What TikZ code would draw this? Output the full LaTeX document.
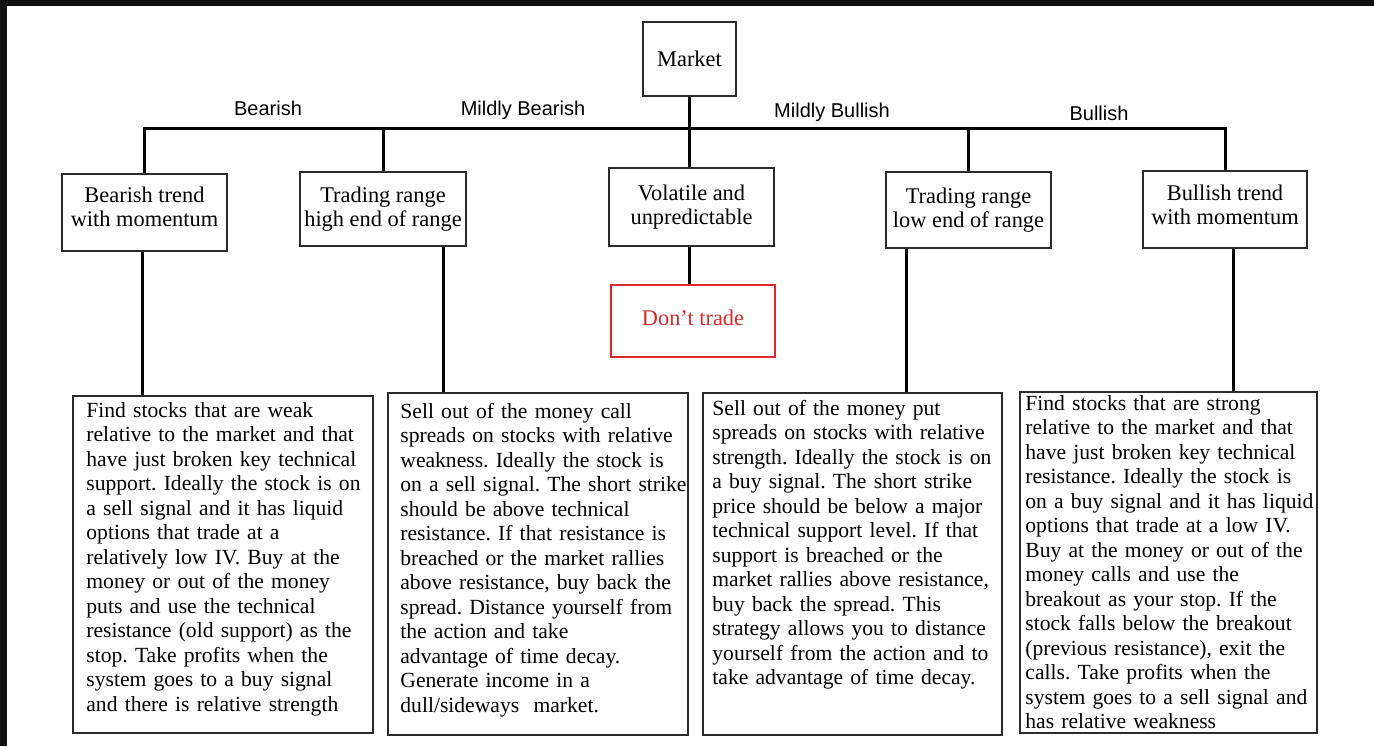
\documentclass[tikz,border=0pt]{standalone}
\usepackage{fontspec}
\setmainfont{Liberation Serif}
\newfontfamily\lblfont{Liberation Sans}
\definecolor{framegray}{HTML}{111111}
\definecolor{boxline}{HTML}{2B2B2B}
\definecolor{dtred}{HTML}{E02828}
\frenchspacing
\begin{document}
\begin{tikzpicture}[x=0.5pt,y=-0.5pt,
  catbox/.style={draw=boxline, line width=1pt, fill=white, inner sep=0pt,
    font=\fontsize{11.2}{12}\selectfont, align=center},
  bigbox/.style={draw=boxline, line width=1pt, inner sep=0pt},
  body/.style={anchor=base west, inner sep=0pt, align=left, text width=160pt,
    font=\fontsize{10.8}{12.25}\selectfont},
  conn/.style={line width=1.5pt, black},
  lbl/.style={font=\lblfont\fontsize{10}{12}\selectfont, inner sep=0pt}]
\useasboundingbox (0,0) rectangle (1374,746);
\fill[white] (0,0) rectangle (1374,746);
\fill[framegray] (0,0) rectangle (1374,6);
\fill[framegray] (0,0) rectangle (7,746);

% category boxes
\node[catbox, minimum width=46.5pt, minimum height=37pt] (market) at (689.5,59) {Market};
\node[catbox, minimum width=82.5pt, minimum height=38.5pt, text depth=5.5pt] (bt) at (144.5,212.5) {Bearish trend\\with momentum};
\node[catbox, minimum width=83pt, minimum height=37pt] (th) at (383,209) {Trading range\\high end of range};
\node[catbox, minimum width=82.5pt, minimum height=39pt] (vol) at (691.5,207) {Volatile and\\unpredictable};
\node[catbox, minimum width=82.5pt, minimum height=38pt] (tl) at (968.5,210) {Trading range\\low end of range};
\node[catbox, minimum width=82pt, minimum height=38.5pt, text depth=5pt] (bu) at (1225,209.5) {Bullish trend\\with momentum};
\node[catbox, draw=dtred, text=dtred, minimum width=82pt, minimum height=36pt, text depth=3.5pt] (dt) at (693,321) {Don't trade};

% strategy boxes
\node[bigbox, minimum width=150pt, minimum height=168.5pt] (b1) at (223,564.5) {};
\node[bigbox, minimum width=150pt, minimum height=171pt] (b2) at (538,564) {};
\node[bigbox, minimum width=149.5pt, minimum height=171pt] (b3) at (852.5,564) {};
\node[bigbox, minimum width=148.5pt, minimum height=170.5pt] (b4) at (1168.5,562.5) {};

% labels
\node[lbl] (lbear) at (268,108) {Bearish};
\node[lbl] (lmbear) at (523,110) {Mildly Bearish};
\node[lbl] (lmbull) at (832,112) {Mildly Bullish};
\node[lbl] (lbull) at (1099,113) {Bullish};

% connectors
\coordinate (busy) at (0,128);
\draw[conn] (market.south) -- (market.south |- vol.north);
\draw[conn] (bt.north) -- (bt.north |- busy) -- (bu.north |- busy) -- (bu.north);
\draw[conn] (th.north) -- (th.north |- busy);
\draw[conn] (tl.north) -- (tl.north |- busy);
\draw[conn] (market.south |- vol.south) -- (market.south |- dt.north);
\draw[conn] ([xshift=-1pt]bt.south) -- ([xshift=-1pt]bt.south |- b1.north);
\draw[conn] ([xshift=30pt]th.south) -- ([xshift=30pt]th.south |- b2.north);
\draw[conn] ([xshift=-31pt]tl.south) -- ([xshift=-31pt]tl.south |- b3.north);
\draw[conn] ([xshift=4pt]bu.south) -- ([xshift=4pt]bu.south |- b4.north);

% texts
\node[body] (t1) at (86,417) {Find stocks that are weak\\
relative to the market and that\\
have just broken key technical\\
support. Ideally the stock is on\\
a sell signal and it has liquid\\
options that trade at a\\
relatively low IV. Buy at the\\
money or out of the money\\
puts and use the technical\\
resistance (old support) as the\\
stop. Take profits when the\\
system goes to a buy signal\\
and there is relative strength};
\node[body] (t2) at (400,418) {Sell out of the money call\\
spreads on stocks with relative\\
weakness. Ideally the stock is\\
on a sell signal. The short strike\\
should be above technical\\
resistance. If that resistance is\\
breached or the market rallies\\
above resistance, buy back the\\
spread. Distance yourself from\\
the action and take\\
advantage of time decay.\\
Generate income in a\\
dull/sideways\ \ market.};
\node[body] (t3) at (712,415) {Sell out of the money put\\
spreads on stocks with relative\\
strength. Ideally the stock is on\\
a buy signal. The short strike\\
price should be below a major\\
technical support level. If that\\
support is breached or the\\
market rallies above resistance,\\
buy back the spread. This\\
strategy allows you to distance\\
yourself from the action and to\\
take advantage of time decay.};
\node[body] (t4) at (1025,410) {Find stocks that are strong\\
relative to the market and that\\
have just broken key technical\\
resistance. Ideally the stock is\\
on a buy signal and it has liquid\\
options that trade at a low IV.\\
Buy at the money or out of the\\
money calls and use the\\
breakout as your stop. If the\\
stock falls below the breakout\\
(previous resistance), exit the\\
calls. Take profits when the\\
system goes to a sell signal and\\
has relative weakness};
\end{tikzpicture}
\end{document}
